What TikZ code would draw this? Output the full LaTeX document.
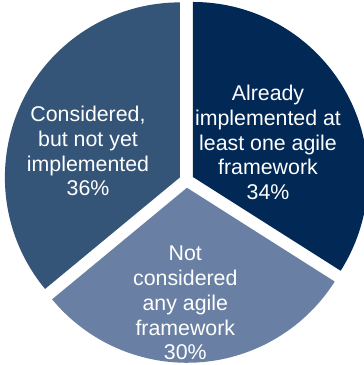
\documentclass[tikz,border=0pt]{standalone}
\usepackage{fontspec}
\setmainfont{Liberation Sans}
\usetikzlibrary{calc}
\definecolor{sliceA}{RGB}{2,41,86}
\definecolor{sliceB}{RGB}{105,128,164}
\definecolor{sliceC}{RGB}{53,85,120}
\tikzset{
  pielabel/.style={text=white, align=center, inner sep=0pt,
    font=\fontsize{16}{18.6}\selectfont},
}
\newcommand{\pieslice}[5]{% color, start, end, explode direction, radius
  \fill[#1] ($(C)+(#4:7.3)$) -- ++(#2:#5) arc[start angle=#2, end angle=#3, radius=#5] -- cycle;
}
\begin{document}
\begin{tikzpicture}[x=0.75pt, y=0.75pt]
  \useasboundingbox (0,0) rectangle (364,365);
  \fill[white] (0,0) rectangle (364,365);
  \clip (0,0) rectangle (364,365);
  \coordinate (C) at (186.5,184.5);
  \pieslice{sliceA}{90}{-32.4}{28.8}{175}
  \pieslice{sliceB}{-32.4}{-140.4}{-86.4}{175}
  \pieslice{sliceC}{-140.4}{-270}{154.8}{175}
  \node[pielabel] (already) at (268,222.5) {Already\\implemented at\\least one agile\\framework\\34\%};
  \node[pielabel] (considered) at (88,214) {Considered,\\but not yet\\implemented\\36\%};
  \node[pielabel] (notconsidered) at (185.3,62) {Not\\considered\\any agile\\framework\\30\%};
\end{tikzpicture}
\end{document}
